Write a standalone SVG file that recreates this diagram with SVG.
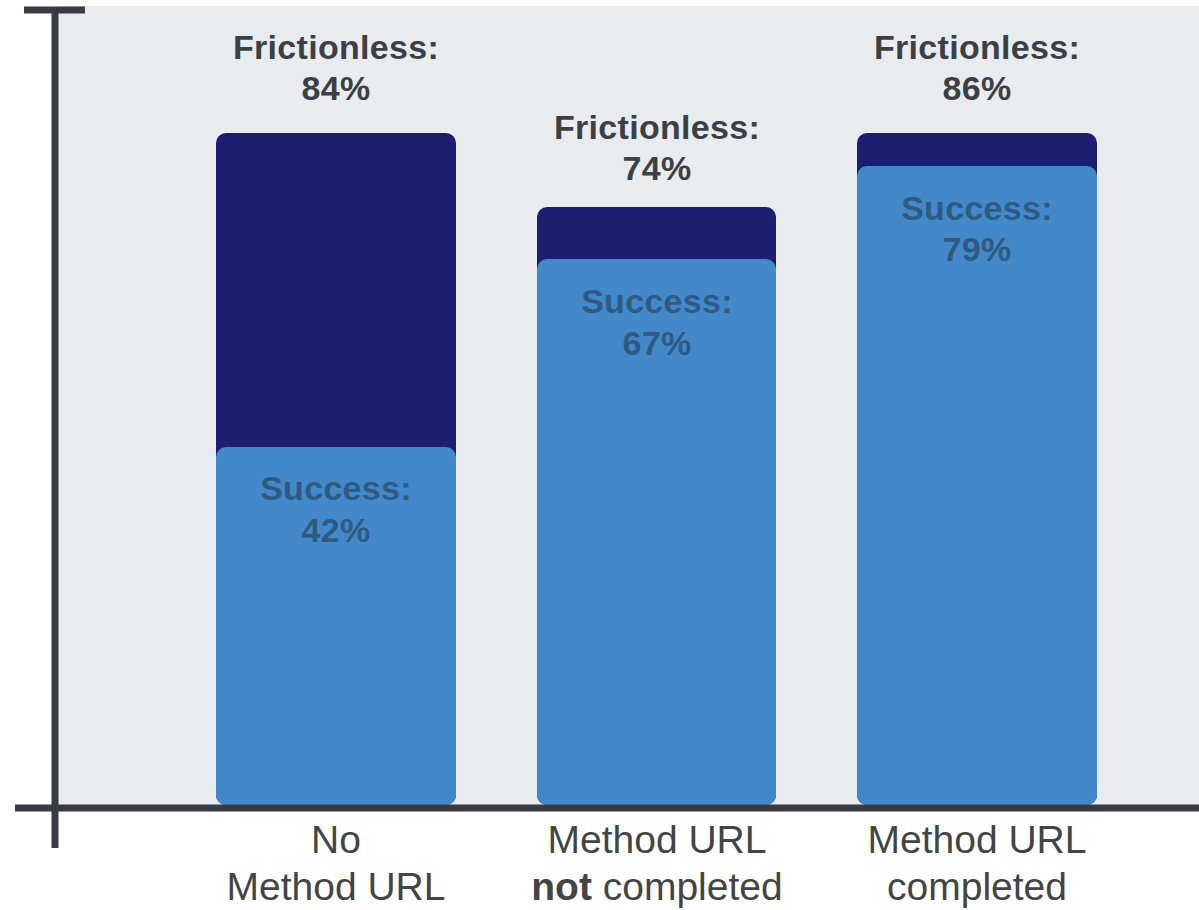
<svg xmlns="http://www.w3.org/2000/svg" width="1199" height="910" viewBox="0 0 1199 910">
<style>
.bg{fill:#e9ecee}
.dark{fill:#1c1e70}
.light{fill:#4389ca}
.axis{stroke:#383c42;stroke-width:7;fill:none}
.top{font-family:"Liberation Sans",Arial,sans-serif;font-weight:bold;font-size:34px;letter-spacing:0.3px;fill:#3c4046;text-anchor:middle}
.in{font-family:"Liberation Sans",Arial,sans-serif;font-weight:bold;font-size:34px;letter-spacing:0.3px;fill:#2e5a84;text-anchor:middle}
.cat{font-family:"Liberation Sans",Arial,sans-serif;font-size:39px;fill:#444;text-anchor:middle}
</style>
<rect x="0" y="0" width="1199" height="910" fill="#ffffff"/>
<rect class="bg" x="57" y="6" width="1142" height="800"/>
<g id="bar1">
<rect class="dark" x="216" y="133" width="240" height="672" rx="10"/>
<rect class="light" x="216" y="447" width="240" height="358" rx="10"/>
<text class="top" x="336" y="59">Frictionless:</text>
<text class="top" x="336" y="100">84%</text>
<text class="in" x="336" y="500">Success:</text>
<text class="in" x="336" y="542">42%</text>
</g>
<g id="bar2">
<rect class="dark" x="537" y="207" width="239" height="598" rx="10"/>
<rect class="light" x="537" y="259" width="239" height="546" rx="10"/>
<text class="top" x="657" y="139">Frictionless:</text>
<text class="top" x="657" y="180">74%</text>
<text class="in" x="657" y="313">Success:</text>
<text class="in" x="657" y="355">67%</text>
</g>
<g id="bar3">
<rect class="dark" x="857" y="133" width="240" height="672" rx="10"/>
<rect class="light" x="857" y="166" width="240" height="639" rx="10"/>
<text class="top" x="977" y="59">Frictionless:</text>
<text class="top" x="977" y="100">86%</text>
<text class="in" x="977" y="220">Success:</text>
<text class="in" x="977" y="261">79%</text>
</g>
<g id="axes">
<path class="axis" d="M55 7 V848"/>
<path class="axis" d="M24 10 H85"/>
<path class="axis" d="M15 808 H1199"/>
</g>
<g id="labels">
<text class="cat" x="336" y="853">No</text>
<text class="cat" x="336" y="900">Method URL</text>
<text class="cat" x="657" y="853">Method URL</text>
<text class="cat" x="657" y="900"><tspan font-weight="bold">not</tspan> completed</text>
<text class="cat" x="977" y="853">Method URL</text>
<text class="cat" x="977" y="900">completed</text>
</g>
</svg>
